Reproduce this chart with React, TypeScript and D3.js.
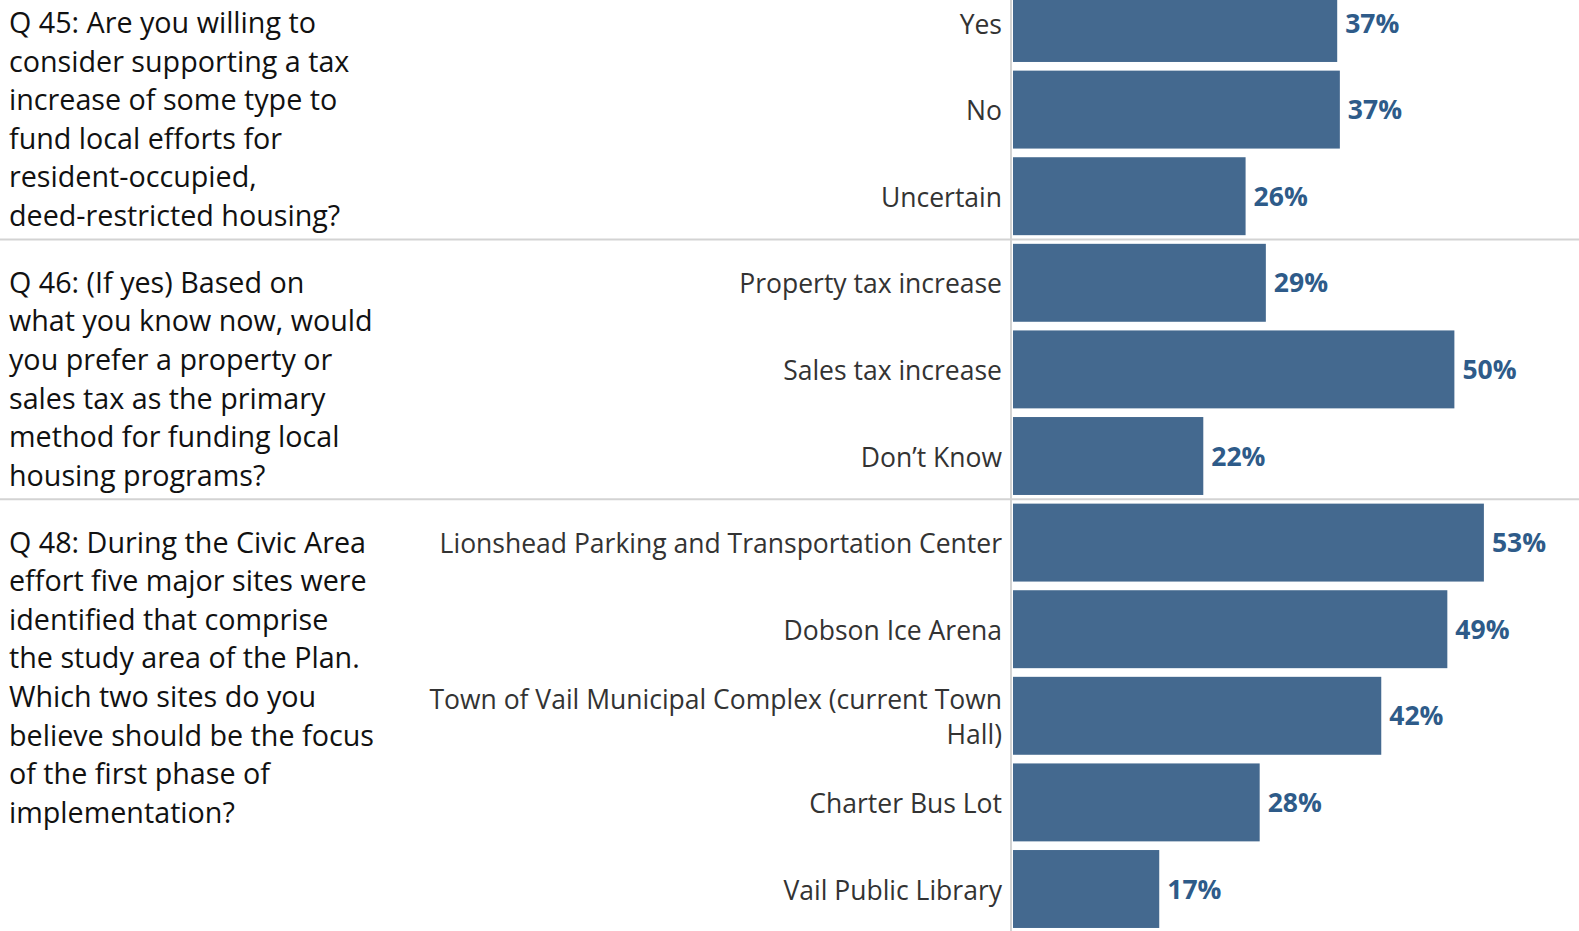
import React, { useEffect, useRef } from "react";
import * as d3 from "d3";

// ---------- data ----------
const q45Lines = [
  "Q 45: Are you willing to",
  "consider supporting a tax",
  "increase of some type to",
  "fund local efforts for",
  "resident-occupied,",
  "deed-restricted housing?",
];
const q45Categories = ["Yes", "No", "Uncertain"];
const q45Values = [36.8, 37.1, 26.4];

const q46Lines = [
  "Q 46: (If yes) Based on",
  "what you know now, would",
  "you prefer a property or",
  "sales tax as the primary",
  "method for funding local",
  "housing programs?",
];
const q46Categories = ["Property tax increase", "Sales tax increase", "Don\u2019t Know"];
const q46Values = [28.7, 50.1, 21.6];

const q48Lines = [
  "Q 48: During the Civic Area",
  "effort five major sites were",
  "identified that comprise",
  "the study area of the Plan.",
  "Which two sites do you",
  "believe should be the focus",
  "of the first phase of",
  "implementation?",
];
const q48Categories = [
  "Lionshead Parking and Transportation Center",
  "Dobson Ice Arena",
  "Town of Vail Municipal Complex (current Town Hall)",
  "Charter Bus Lot",
  "Vail Public Library",
];
const q48Values = [53.45, 49.3, 41.8, 28.0, 16.6];

// ---------- layout ----------
const W = 1579;
const H = 931;
const FONT = "'Open Sans', 'Noto Sans', sans-serif";
const BAR = "#44698f";
const LABEL_BLUE = "#2e5b89";
const GRID = "#d3d3d3";

type Row = { key: string; category: string; value: number; section: number };

function wrap(text: string, maxW: number, font: string): string[] {
  const c = document.createElement("canvas").getContext("2d")!;
  c.font = font;
  const words = text.split(" ");
  const lines: string[] = [];
  let cur = "";
  for (const w of words) {
    const t = cur ? cur + " " + w : w;
    if (c.measureText(t).width > maxW && cur) {
      lines.push(cur);
      cur = w;
    } else cur = t;
  }
  if (cur) lines.push(cur);
  return lines;
}

export default function App() {
  const ref = useRef<SVGSVGElement>(null);

  useEffect(() => {
    document.body.style.margin = "0";
    document.body.style.overflow = "hidden";
    const svg = d3.select(ref.current!);
    svg.selectAll("*").remove();

    const sections = [
      { lines: q45Lines, cats: q45Categories, vals: q45Values },
      { lines: q46Lines, cats: q46Categories, vals: q46Values },
      { lines: q48Lines, cats: q48Categories, vals: q48Values },
    ];
    const rows: Row[] = [];
    sections.forEach((s, si) =>
      s.cats.forEach((c, i) =>
        rows.push({ key: si + "-" + c, category: c, value: s.vals[i], section: si })
      )
    );

    const y = d3
      .scaleBand<string>()
      .domain(rows.map((r) => r.key))
      .range([-20.3, 932.3])
      .paddingInner(0.1)
      .paddingOuter(0.05);
    const step = y.step();

    const x0 = 1013;
    const x = d3.scaleLinear().domain([0, 100]).range([x0, x0 + 881]);

    const sectionTop = (si: number) => {
      const first = rows.find((r) => r.section === si)!;
      return y(first.key)! - (step * 0.1) / 2;
    };

    [1, 2].forEach((si) => {
      const yy = sectionTop(si);
      svg
        .append("line")
        .attr("x1", 0)
        .attr("x2", W)
        .attr("y1", yy)
        .attr("y2", yy)
        .attr("stroke", GRID)
        .attr("stroke-width", 2);
    });

    svg
      .append("line")
      .attr("x1", 1011)
      .attr("x2", 1011)
      .attr("y1", 0)
      .attr("y2", H)
      .attr("stroke", GRID)
      .attr("stroke-width", 2);

    svg
      .selectAll("rect.bar")
      .data(rows)
      .join("rect")
      .attr("class", "bar")
      .attr("x", x(0))
      .attr("y", (d) => y(d.key)!)
      .attr("width", (d) => x(d.value) - x(0))
      .attr("height", y.bandwidth())
      .attr("fill", BAR);

    svg
      .selectAll("text.val")
      .data(rows)
      .join("text")
      .attr("class", "val")
      .attr("x", (d) => x(d.value) + 8)
      .attr("y", (d) => y(d.key)! + y.bandwidth() / 2)
      .attr("dy", "0.36em")
      .attr("font-family", FONT)
      .attr("font-weight", 700)
      .attr("font-size", 26.5)
      .attr("fill", LABEL_BLUE)
      .text((d) => Math.round(d.value) + "%");

    const catSize = 26.5;
    const catFont = `${catSize}px ${FONT}`;
    const catLineH = 35;
    rows.forEach((r) => {
      const lines = wrap(r.category, 575, catFont);
      const cy = y(r.key)! + y.bandwidth() / 2;
      const t = svg
        .append("text")
        .attr("text-anchor", "end")
        .attr("font-family", FONT)
        .attr("font-size", catSize)
        .attr("fill", "#333333");
      lines.forEach((ln, i) => {
        t.append("tspan")
          .attr("x", 1002)
          .attr("y", cy + (i - (lines.length - 1) / 2) * catLineH)
          .attr("dy", "0.4em")
          .text(ln);
      });
    });

    sections.forEach((s, si) => {
      const top = sectionTop(si);
      const t = svg
        .append("text")
        .attr("font-family", FONT)
        .attr("font-size", 28.7)
        .attr("fill", "#111111");
      s.lines.forEach((ln, i) => {
        t.append("tspan")
          .attr("x", 9)
          .attr("y", top + 43 + i * 38.6)
          .attr("dy", "0.36em")
          .text(ln);
      });
    });
  }, []);

  return (
    <svg
      ref={ref}
      width={W}
      height={H}
      style={{ position: "absolute", left: 0, top: 0, background: "#fff" }}
    />
  );
}
